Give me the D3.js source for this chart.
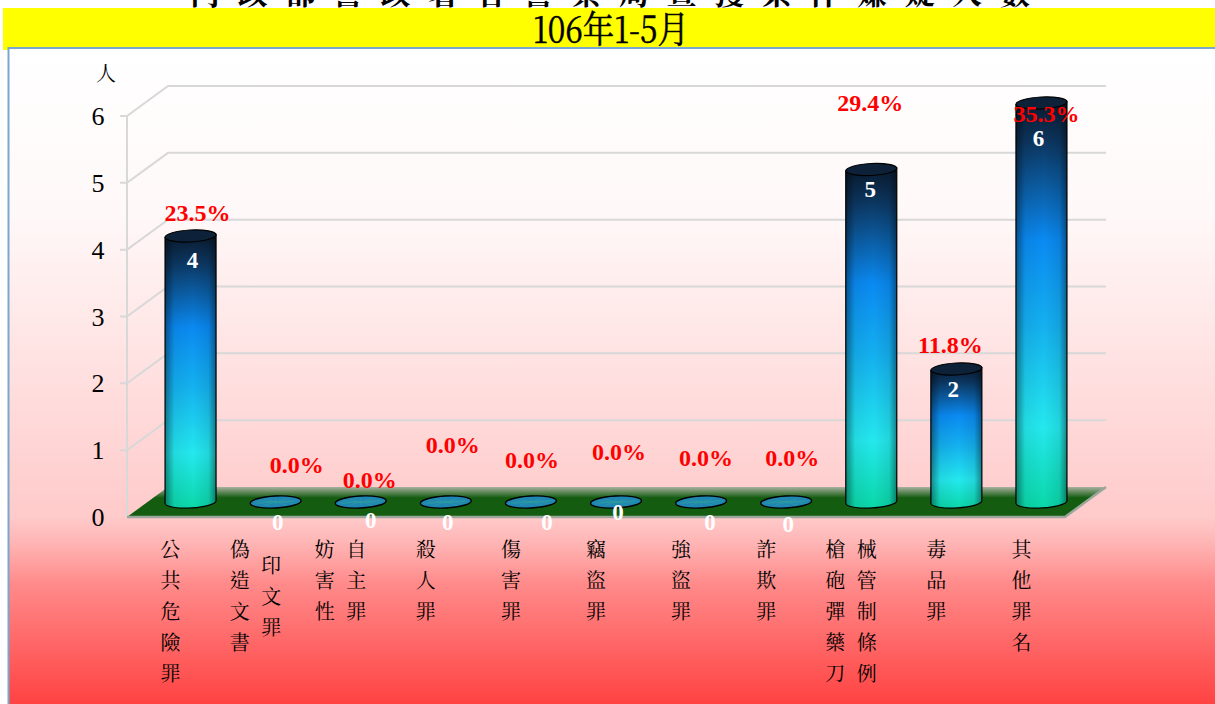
<!DOCTYPE html>
<html><head><meta charset="utf-8">
<script src="https://cdn.jsdelivr.net/npm/d3@7/dist/d3.min.js"></script>
<style>html,body{margin:0;padding:0;background:#fff;overflow:hidden}svg{display:block}</style>
</head><body><div id="c"></div>
<script>
const categoryLines=[["公共危險罪"],["偽造文書","印文罪"],["妨害性","自主罪"],["殺人罪"],["傷害罪"],["竊盜罪"],["強盜罪"],["詐欺罪"],["槍砲彈藥刀","械管制條例"],["毒品罪"],["其他罪名"]];
const counts=[4,0,0,0,0,0,0,0,5,2,6];
const pctLabels=["23.5%","0.0%","0.0%","0.0%","0.0%","0.0%","0.0%","0.0%","29.4%","11.8%","35.3%"];
const yTicks=[0,1,2,3,4,5,6];

// label nudges relative to each bar (layout, not data)
const pctDx=[7,21,9,7,1,3,5,6,-1,-6,5];
const pctDy=[-23,-37,-22,-57,-42,-50,-44,-44,-67,-24,11];
const valueDx=[2,2,10,2,16,2,9,2,-1,-3,-3];
const valueDy=[32,28,26,28,28,18,28,30,27,28,43];

const W=1215,H=704;
const svg=d3.select("#c").append("svg").attr("width",W).attr("height",H);
const defs=svg.append("defs");
const serif='"Liberation Serif","Times New Roman",serif';
const cjkSerif='"Noto Serif CJK TC","Noto Sans CJK TC",serif';

const stops=(id,attrs,list)=>{const g=defs.append("linearGradient").attr("id",id);
  Object.entries(attrs).forEach(([k,v])=>g.attr(k,v));
  list.forEach(d=>{const s=g.append("stop").attr("offset",d[0]).attr("stop-color",d[1]);if(d[2]!==undefined)s.attr("stop-opacity",d[2]);});};
const vert={x1:0,x2:0,y1:0,y2:1};
stops("bg",vert,[[0,"#ffffff"],[0.25,"#fff8f8"],[0.70,"#ffcaca"],[0.74,"#ffb4b4"],[0.80,"#ff8a8a"],[1,"#ff3a3a"]]);
stops("barV",vert,[[0,"#0a1a2e"],[0.1,"#0c3660"],[0.34,"#0a8af2"],[0.55,"#14b0f0"],[0.8,"#24e8ee"],[1,"#0ad8a8"]]);
stops("barH",{x1:0,x2:1,y1:0,y2:0},[[0,"#000",0.42],[0.18,"#000",0.06],[0.55,"#000",0],[0.85,"#000",0.08],[1,"#000",0.42]]);
stops("floor",vert,[[0,"#a8b0a0"],[0.36,"#135c10"],[1,"#135c10"]]);

// title
svg.append("text").attr("x",610).attr("y",4).attr("text-anchor","middle").attr("font-family",cjkSerif).attr("font-size",30).attr("font-weight","bold").attr("textLength",840).text("內政部警政署各警察局查獲案件嫌疑人數");
svg.append("rect").attr("x",3).attr("y",8).attr("width",1212).attr("height",42).attr("fill","#ffff00");
svg.append("text").attr("text-anchor","middle").attr("font-family",cjkSerif).attr("font-size",37).attr("font-weight","normal").attr("stroke","#000").attr("stroke-width",0.5)
  .attr("transform","translate(611,43) scale(0.85,1)").text("106年1-5月");

// chart area
svg.append("rect").attr("x",8.5).attr("y",48).attr("width",1220).attr("height",670).attr("fill","url(#bg)").attr("stroke","#7ba6cf").attr("stroke-width",2);

// scales
const y=d3.scaleLinear().domain([0,6]).range([517,116]);
const dx=41, dy=30;
const x=d3.scaleBand().domain(d3.range(counts.length)).range([148,1084]);
const x1=127,x2=1065;
const g=svg.append("g");
// gridlines
yTicks.forEach(t=>{
  if(t===0) return;
  const yy=y(t);
  g.append("path").attr("d",`M${x1-7},${yy}H${x1}L${x1+dx},${yy-dy}H${x2+dx}`).attr("fill","none").attr("stroke","#d8d8d8").attr("stroke-width",2);
});
g.append("line").attr("x1",x1).attr("x2",x1).attr("y1",y(6)).attr("y2",y(0)).attr("stroke","#d8d8d8").attr("stroke-width",2);
// floor
g.append("path").attr("d",`M${x1},${y(0)}L${x1+dx},${y(0)-dy}H${x2+dx}L${x2},${y(0)}Z`).attr("fill","url(#floor)");
g.append("path").attr("d",`M${x1},${y(0)}H${x2}L${x2+dx},${y(0)-dy}`).attr("fill","none").attr("stroke","#9aa79a").attr("stroke-width",2.5);
// y tick labels
svg.selectAll(".yl").data(yTicks).join("text").attr("x",98).attr("y",d=>y(d)+9).attr("text-anchor","middle").attr("font-family",serif).attr("font-size",26).text(d=>d);
svg.append("text").attr("x",106).attr("y",81).attr("text-anchor","middle").attr("font-family",cjkSerif).attr("font-size",20).text("人");

// cylinders
const base=502, rx=25.5, ry=6, tilt=-3;
const yBar=d3.scaleLinear().domain([0,6]).range([base,103]);
const cxOf=i=>x(i)+x.bandwidth()/2;
counts.forEach((c,i)=>{
  const cx=cxOf(i), top=yBar(c), gg=g.append("g");
  if(c>0){
    const d=`M${cx-rx},${top+1.5}L${cx-rx},${base+1.5}A${rx},${ry},${tilt},0,0,${cx+rx},${base-1.5}L${cx+rx},${top-1.5}Z`;
    gg.append("path").attr("d",d).attr("fill","url(#barV)");
    gg.append("path").attr("d",d).attr("fill","url(#barH)").attr("stroke","#000").attr("stroke-width",1.2);
    gg.append("ellipse").attr("cx",cx).attr("cy",top).attr("rx",rx).attr("ry",ry).attr("transform",`rotate(${tilt},${cx},${top})`).attr("fill","#0d2238").attr("stroke","#000").attr("stroke-width",1.2);
  } else {
    gg.append("ellipse").attr("cx",cx).attr("cy",base).attr("rx",rx).attr("ry",ry).attr("transform",`rotate(${tilt},${cx},${base})`).attr("fill","#1f86b4").attr("stroke","#000").attr("stroke-width",1.4);
    d3.range(6).forEach(k=>{const a=k*Math.PI/6;
      gg.append("line").attr("x1",cx-rx*.85*Math.cos(a)).attr("x2",cx+rx*.85*Math.cos(a)).attr("y1",base-ry*.8*Math.sin(a)+1).attr("y2",base+ry*.8*Math.sin(a)-1).attr("stroke","#2f9c9c").attr("stroke-width",.6);});
  }
});
// value labels
svg.selectAll(".val").data(counts).join("text").attr("x",(d,i)=>cxOf(i)+valueDx[i]).attr("y",(d,i)=>yBar(d)+valueDy[i])
  .attr("text-anchor","middle").attr("font-family",serif).attr("font-weight","bold").attr("font-size",23).attr("fill","#fff").text(d=>d);
// percent labels
svg.selectAll(".pct").data(pctLabels).join("text").attr("x",(d,i)=>cxOf(i)+pctDx[i]).attr("y",(d,i)=>yBar(counts[i])+pctDy[i]+8)
  .attr("text-anchor","middle").attr("font-family",serif).attr("font-weight","bold").attr("font-size",24).attr("fill","#ff0000").text(d=>d);
// category labels (vertical columns)
categoryLines.forEach((cols,i)=>{
  cols.forEach((s,k)=>{
    const lx=cxOf(i)+(cols.length>1?(k===0?-36:-4.5):-20);
    const start=(s==="印文罪")?565:549;
    Array.from(s).forEach((ch,j)=>{
      svg.append("text").attr("x",lx).attr("y",start+j*31+8).attr("text-anchor","middle").attr("font-family",cjkSerif).attr("font-size",20).text(ch);
    });
  });
});
</script></body></html>
